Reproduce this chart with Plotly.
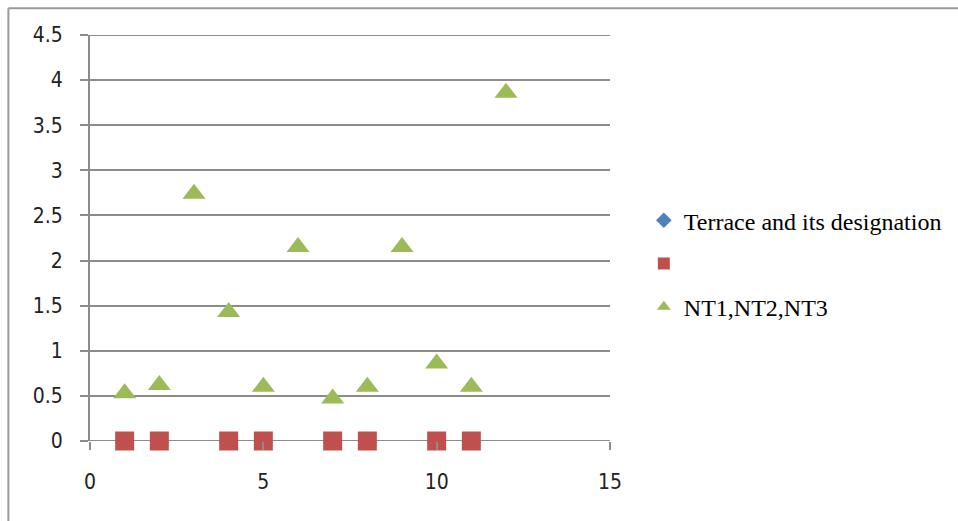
import plotly.graph_objects as go

# Terrace positions and heights
nt_x = [1, 2, 3, 4, 5, 6, 7, 8, 9, 10, 11, 12]
nt_y = [0.53, 0.62, 2.74, 1.43, 0.60, 2.15, 0.47, 0.60, 2.15, 0.86, 0.60, 3.86]
base_x = [1, 2, 4, 5, 7, 8, 10, 11]
base_y = [0, 0, 0, 0, 0, 0, 0, 0]
designation_x = [None]
designation_y = [None]

x_ticks = [0, 5, 10, 15]
y_ticks = [0, 0.5, 1, 1.5, 2, 2.5, 3, 3.5, 4, 4.5]
y_labels = ["0", "0.5", "1", "1.5", "2", "2.5", "3", "3.5", "4", "4.5"]

fig = go.Figure()
fig.add_trace(go.Scatter(
    x=designation_x, y=designation_y, mode="markers",
    name="Terrace and its designation", legendgroup="a",
    marker=dict(symbol="diamond", size=12, color="#4F81BD"),
))
fig.add_trace(go.Scatter(
    x=base_x, y=base_y, mode="markers", name=" ", legendgroup="b",
    marker=dict(symbol="square", size=19, color="#C0504D"),
    cliponaxis=False,
))
fig.add_trace(go.Scatter(
    x=nt_x, y=nt_y, mode="markers", name="NT1,NT2,NT3", legendgroup="c",
    marker=dict(symbol="triangle-up", size=20, color="#9BBB59"),
    cliponaxis=False,
))

grid_color = "#8C8C8C"
tick_font = dict(family="DejaVu Sans Condensed, Liberation Sans Narrow, sans-serif", size=21, color="#222222")

fig.update_layout(
    width=958, height=521,
    margin=dict(l=90, r=347, t=35, b=80),
    paper_bgcolor="white", plot_bgcolor="white",
    showlegend=True,
    legend=dict(
        x=1.063, y=0.598, xanchor="left", yanchor="top",
        font=dict(family="Liberation Serif, Times New Roman, serif", size=24, color="black"),
        tracegroupgap=9, itemsizing="constant",
        bgcolor="rgba(0,0,0,0)",
    ),
    xaxis=dict(
        range=[0, 15], tickvals=x_ticks, ticktext=[str(v) for v in x_ticks],
        showgrid=False, zeroline=False,
        showline=False, ticks="outside", ticklen=8, tickcolor=grid_color, tickwidth=2,
        tickfont=tick_font, ticklabelstandoff=14,
    ),
    yaxis=dict(
        range=[0, 4.5], tickvals=y_ticks, ticktext=y_labels,
        showgrid=True, gridcolor=grid_color, gridwidth=2,
        zeroline=False, showline=True, linecolor=grid_color, linewidth=2,
        ticks="outside", ticklen=8, tickcolor=grid_color, tickwidth=2,
        tickfont=tick_font, ticklabelstandoff=13,
    ),
)

# Horizontal lines at y = 0 and at the top of the range
for yv in (0, 4.5):
    fig.add_shape(type="line", xref="paper", yref="y", x0=0, x1=1, y0=yv, y1=yv,
                  line=dict(color=grid_color, width=2), layer="below")

# Outer frame (left and top edges)
fig.add_shape(type="line", xref="paper", yref="paper", x0=-0.157, x1=-0.157, y0=-0.2, y1=1.066,
              line=dict(color="#9A9A9A", width=2))
fig.add_shape(type="line", xref="paper", yref="paper", x0=-0.157, x1=1.7, y0=1.066, y1=1.066,
              line=dict(color="#9A9A9A", width=2))

fig.write_html("out.html")
